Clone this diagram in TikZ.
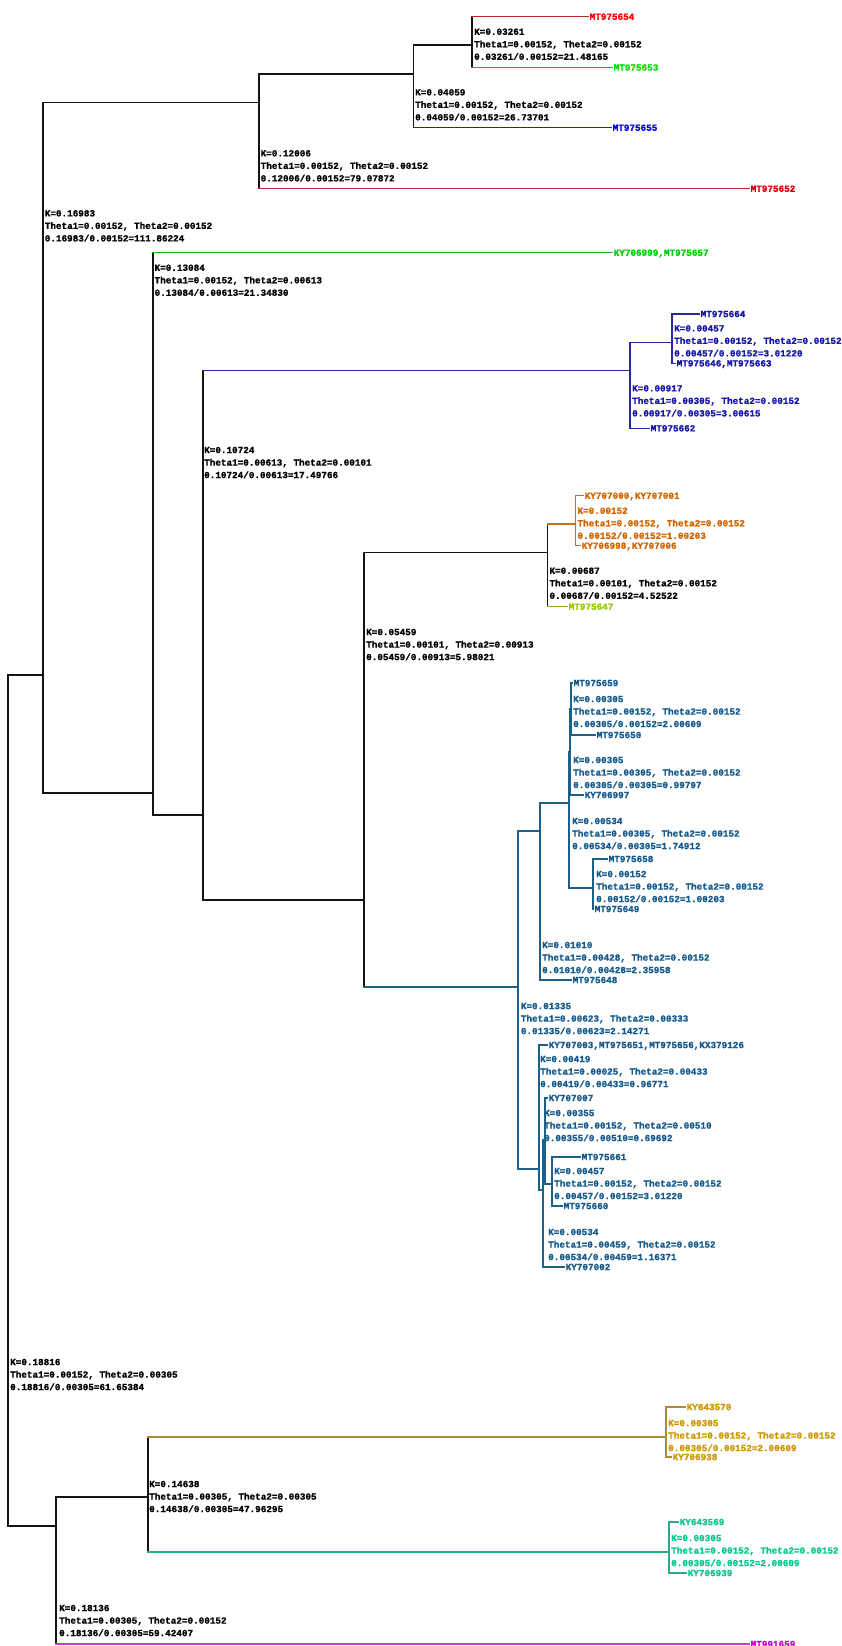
\documentclass[tikz,border=0pt]{standalone}
\usepackage{fontspec}
\setmainfont{Liberation Mono}[BoldFeatures={FakeBold=1.2}]
\definecolor{blk}{RGB}{20,20,20}
\definecolor{redL}{RGB}{180,45,45}\definecolor{redT}{RGB}{255,0,0}
\definecolor{red2T}{RGB}{215,0,0}
\definecolor{greenL}{RGB}{45,175,45}\definecolor{greenT}{RGB}{0,225,0}
\definecolor{green2T}{RGB}{0,205,0}
\definecolor{blueL}{RGB}{30,30,215}\definecolor{blueT}{RGB}{0,0,255}
\definecolor{navyL}{RGB}{40,40,150}\definecolor{navyT}{RGB}{20,20,170}
\definecolor{orangeL}{RGB}{195,110,35}\definecolor{orangeT}{RGB}{210,100,0}
\definecolor{ygL}{RGB}{140,170,40}\definecolor{ygT}{RGB}{150,200,0}
\definecolor{tealL}{RGB}{30,95,135}\definecolor{tealT}{RGB}{20,90,140}
\definecolor{goldL}{RGB}{170,140,50}\definecolor{goldT}{RGB}{205,150,0}
\definecolor{tgL}{RGB}{40,170,140}\definecolor{tgT}{RGB}{0,200,140}
\definecolor{magL}{RGB}{200,60,200}\definecolor{magT}{RGB}{200,0,200}
\tikzset{
  every node/.style={font=\fontsize{9.3}{12.5}\selectfont\bfseries},
  lab/.style={anchor=west, inner sep=0pt, text height=6.2pt, text depth=0pt},
  leaf/.style={anchor=west, inner xsep=1.5pt, inner ysep=0pt, text height=6.2pt, text depth=0pt},
  br/.style={line width=1.4pt, line cap=rect},
}
% internal label: [color]{name}{x}{y}{line1}{line2}{line3}
\newcommand\trilab[7][black]{%
  \node[lab,text=#1] (#2k) at (#3,#4) {#5};
  \node[lab,text=#1] (#2t) at (#3,#4+12.5) {#6};
  \node[lab,text=#1] (#2r) at (#3,#4+25) {#7};}
% leaf: [color]{name}{x}{y}{text}
\newcommand\leafnode[5][black]{\node[leaf,text=#1] (#2) at (#3,#4) {#5};}
% vertical of a parent between two children
\newcommand\brV[4][blk]{\draw[br,#1] (#2 |- #3) -- (#2 |- #4);}
% horizontal from parent to child
\newcommand\brH[3][blk]{\draw[br,#1] (#2 |- #3) -- (#3);}
\begin{document}
\begin{tikzpicture}[x=1pt,y=-1pt]
\fill[white] (0,0) rectangle (842,1646);
\useasboundingbox (0,0) rectangle (842,1646);
% ---------- internal node positions (x, stem y)
\coordinate (R0) at (8,1100);
\coordinate (A) at (43,675);
\coordinate (B) at (259,102.7);
\coordinate (D) at (413.5,74);
\coordinate (E) at (472,45);
\coordinate (C) at (153,793);
\coordinate (F) at (203,815);
\coordinate (G) at (630,370.7);
\coordinate (I) at (672,342.3);
\coordinate (H) at (364,900);
\coordinate (J) at (547.3,552.7);
\coordinate (L) at (575.7,524);
\coordinate (K) at (518,987);
\coordinate (M) at (540,831);
\coordinate (P) at (569,803);
\coordinate (Q) at (570,752);
\coordinate (S) at (571,709);
\coordinate (R) at (593,888);
\coordinate (N) at (539,1169);
\coordinate (V) at (543,1190);
\coordinate (T) at (545,1140);
\coordinate (U) at (552,1184);
\coordinate (W) at (56,1526);
\coordinate (X) at (148,1497);
\coordinate (Y) at (666,1437);
\coordinate (Z) at (669,1552);
% ---------- leaves
\leafnode[redT]{l1}{588}{16.7}{MT975654}
\leafnode[greenT]{l2}{612}{67.5}{MT975653}
\leafnode[blueT]{l3}{611}{127.7}{MT975655}
\leafnode[red2T]{l4}{749}{188.7}{MT975652}
\leafnode[green2T]{l5}{612}{252.7}{KY706999,MT975657}
\leafnode[navyT]{l6}{699}{314}{MT975664}
\leafnode[navyT]{l7}{675}{363.3}{MT975646,MT975663}
\leafnode[navyT]{l8}{649}{428.3}{MT975662}
\leafnode[orangeT]{l9}{583}{495.7}{KY707000,KY707001}
\leafnode[orangeT]{l10}{580}{545.7}{KY706998,KY707006}
\leafnode[ygT]{l11}{567}{606.7}{MT975647}
\leafnode[tealT]{l12}{572}{683}{MT975659}
\leafnode[tealT]{l13}{595}{735}{MT975650}
\leafnode[tealT]{l14}{583}{795}{KY706997}
\leafnode[tealT]{l15}{607}{859}{MT975658}
\leafnode[tealT]{l16}{593}{909}{MT975649}
\leafnode[tealT]{l17}{571}{980}{MT975648}
\leafnode[tealT]{l18}{547}{1045}{KY707003,MT975651,MT975656,KX379126}
\leafnode[tealT]{l19}{547}{1098}{KY707007}
\leafnode[tealT]{l20}{580}{1157}{MT975661}
\leafnode[tealT]{l21}{562}{1206}{MT975660}
\leafnode[tealT]{l22}{564}{1267}{KY707002}
\leafnode[goldT]{l23}{685}{1407}{KY643570}
\leafnode[goldT]{l24}{671}{1457}{KY706938}
\leafnode[tgT]{l25}{678}{1522}{KY643569}
\leafnode[tgT]{l26}{686}{1573}{KY706939}
\leafnode[magT]{l27}{749}{1644}{MT991659}
% ---------- internal labels
\trilab{labE}{474}{31.7}{K=0.03261}{Theta1=0.00152, Theta2=0.00152}{0.03261/0.00152=21.48165}
\trilab{labD}{415}{92.3}{K=0.04059}{Theta1=0.00152, Theta2=0.00152}{0.04059/0.00152=26.73701}
\trilab{labB}{260.5}{153.3}{K=0.12006}{Theta1=0.00152, Theta2=0.00152}{0.12006/0.00152=79.07872}
\trilab{labA}{44.6}{213.3}{K=0.16983}{Theta1=0.00152, Theta2=0.00152}{0.16983/0.00152=111.86224}
\trilab{labC}{154.4}{267.7}{K=0.13084}{Theta1=0.00152, Theta2=0.00613}{0.13084/0.00613=21.34830}
\trilab[navyT]{labI}{674}{328.3}{K=0.00457}{Theta1=0.00152, Theta2=0.00152}{0.00457/0.00152=3.01220}
\trilab[navyT]{labG}{632}{388.3}{K=0.00917}{Theta1=0.00305, Theta2=0.00152}{0.00917/0.00305=3.00615}
\trilab{labF}{204}{450}{K=0.10724}{Theta1=0.00613, Theta2=0.00101}{0.10724/0.00613=17.49766}
\trilab[orangeT]{labL}{577.3}{510.7}{K=0.00152}{Theta1=0.00152, Theta2=0.00152}{0.00152/0.00152=1.00203}
\trilab{labJ}{549.3}{570.7}{K=0.00687}{Theta1=0.00101, Theta2=0.00152}{0.00687/0.00152=4.52522}
\trilab{labH}{366}{632}{K=0.05459}{Theta1=0.00101, Theta2=0.00913}{0.05459/0.00913=5.98021}
\trilab[tealT]{labS}{573}{699}{K=0.00305}{Theta1=0.00152, Theta2=0.00152}{0.00305/0.00152=2.00609}
\trilab[tealT]{labQ}{573}{760}{K=0.00305}{Theta1=0.00305, Theta2=0.00152}{0.00305/0.00305=0.99797}
\trilab[tealT]{labP}{572}{821}{K=0.00534}{Theta1=0.00305, Theta2=0.00152}{0.00534/0.00305=1.74912}
\trilab[tealT]{labR}{596}{874}{K=0.00152}{Theta1=0.00152, Theta2=0.00152}{0.00152/0.00152=1.00203}
\trilab[tealT]{labM}{542}{945}{K=0.01010}{Theta1=0.00428, Theta2=0.00152}{0.01010/0.00428=2.35958}
\trilab[tealT]{labK}{520.7}{1006}{K=0.01335}{Theta1=0.00623, Theta2=0.00333}{0.01335/0.00623=2.14271}
\trilab[tealT]{labN}{540}{1059}{K=0.00419}{Theta1=0.00025, Theta2=0.00433}{0.00419/0.00433=0.96771}
\trilab[tealT]{labT}{544}{1113}{K=0.00355}{Theta1=0.00152, Theta2=0.00510}{0.00355/0.00510=0.69692}
\trilab[tealT]{labU}{554}{1171}{K=0.00457}{Theta1=0.00152, Theta2=0.00152}{0.00457/0.00152=3.01220}
\trilab[tealT]{labV}{548}{1232}{K=0.00534}{Theta1=0.00459, Theta2=0.00152}{0.00534/0.00459=1.16371}
\trilab{labR0}{10}{1362}{K=0.18816}{Theta1=0.00152, Theta2=0.00305}{0.18816/0.00305=61.65384}
\trilab[goldT]{labY}{668}{1423}{K=0.00305}{Theta1=0.00152, Theta2=0.00152}{0.00305/0.00152=2.00609}
\trilab{labX}{149}{1484}{K=0.14638}{Theta1=0.00305, Theta2=0.00305}{0.14638/0.00305=47.96295}
\trilab[tgT]{labZ}{671}{1538}{K=0.00305}{Theta1=0.00152, Theta2=0.00152}{0.00305/0.00152=2.00609}
\trilab{labW}{59}{1608}{K=0.18136}{Theta1=0.00305, Theta2=0.00152}{0.18136/0.00305=59.42407}
% ---------- branches
% root
\brV{R0}{A}{W} \brH{R0}{A} \brH{R0}{W}
% A
\brV{A}{B}{C} \brH{A}{B} \brH{A}{C}
\brV{B}{D}{l4.west} \brH{B}{D} \brH[redL]{B}{l4.west}
\brV{D}{E}{l3.west} \brH{D}{E} \brH[blueL]{D}{l3.west}
\brV{E}{l1.west}{l2.west} \brH[redL]{E}{l1.west} \brH[greenL]{E}{l2.west}
\brV{C}{l5.west}{F} \brH[greenL]{C}{l5.west} \brH{C}{F}
\brV{F}{G}{H} \brH[navyL]{F}{G} \brH{F}{H}
\brV[navyL]{G}{I}{l8.west} \brH[navyL]{G}{I} \brH[navyL]{G}{l8.west}
\brV[navyL]{I}{l6.west}{l7.west} \brH[navyL]{I}{l6.west} \brH[navyL]{I}{l7.west}
\brV{H}{J}{K} \brH{H}{J} \brH[tealL]{H}{K}
\brV{J}{L}{l11.west} \brH[orangeL]{J}{L} \brH[ygL]{J}{l11.west}
\brV[orangeL]{L}{l9.west}{l10.west} \brH[orangeL]{L}{l9.west} \brH[orangeL]{L}{l10.west}
% teal clade
\begin{scope}[br/.append style={line width=1.1pt}]
\brV[tealL]{K}{M}{N} \brH[tealL]{K}{M} \brH[tealL]{K}{N}
\brV[tealL]{M}{P}{l17.west} \brH[tealL]{M}{P} \brH[tealL]{M}{l17.west}
\brV[tealL]{P}{Q}{R} \brH[tealL]{P}{Q} \brH[tealL]{P}{R}
\brV[tealL]{Q}{S}{l14.west} \brH[tealL]{Q}{S} \brH[tealL]{Q}{l14.west}
\brV[tealL]{S}{l12.west}{l13.west} \brH[tealL]{S}{l12.west} \brH[tealL]{S}{l13.west}
\brV[tealL]{R}{l15.west}{l16.west} \brH[tealL]{R}{l15.west} \brH[tealL]{R}{l16.west}
\brV[tealL]{N}{l18.west}{V} \brH[tealL]{N}{l18.west} \brH[tealL]{N}{V}
\brV[tealL]{V}{T}{l22.west} \brH[tealL]{V}{T} \brH[tealL]{V}{l22.west}
\brV[tealL]{T}{l19.west}{U} \brH[tealL]{T}{l19.west} \brH[tealL]{T}{U}
\brV[tealL]{U}{l20.west}{l21.west} \brH[tealL]{U}{l20.west} \brH[tealL]{U}{l21.west}
\end{scope}
% bottom clade
\brV{W}{X}{l27.west} \brH{W}{X} \brH[magL]{W}{l27.west}
\brV{X}{Y}{Z} \brH[goldL]{X}{Y} \brH[tgL]{X}{Z}
\brV[goldL]{Y}{l23.west}{l24.west} \brH[goldL]{Y}{l23.west} \brH[goldL]{Y}{l24.west}
\brV[tgL]{Z}{l25.west}{l26.west} \brH[tgL]{Z}{l25.west} \brH[tgL]{Z}{l26.west}
\end{tikzpicture}
\end{document}
